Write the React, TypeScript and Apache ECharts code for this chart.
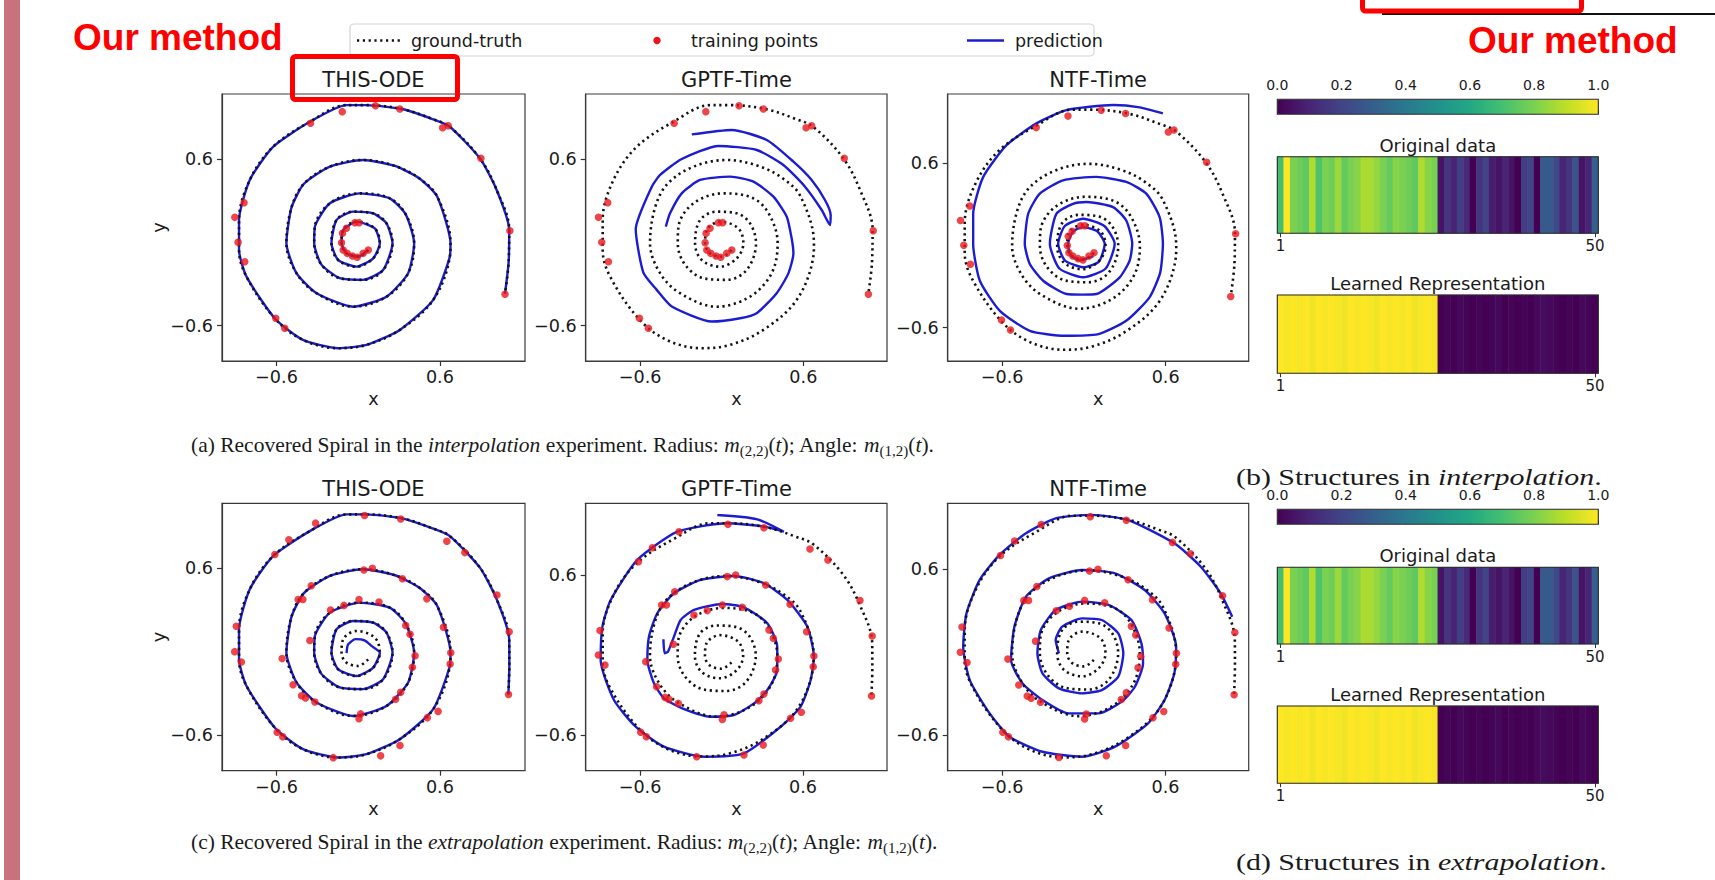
import React, { useEffect, useRef } from "react";
import * as echarts from "echarts";

// ---------- data ----------
const GT_SPIRAL: number[][] = [
  [0.073, -0.055], [0.0, -0.103], [-0.086, -0.079], [-0.122, -0.007], [-0.11, 0.089], [-0.012, 0.149],
  [0.122, 0.101], [0.159, -0.007], [0.11, -0.115], [-0.012, -0.175], [-0.147, -0.127], [-0.196, -0.007],
  [-0.159, 0.161], [-0.037, 0.221], [0.11, 0.209], [0.208, 0.137], [0.252, -0.007], [0.183, -0.199],
  [0.036, -0.27], [-0.135, -0.258], [-0.27, -0.16], [-0.323, -0.007], [-0.318, 0.113], [-0.208, 0.281],
  [0.012, 0.353], [0.232, 0.317], [0.35, 0.2], [0.411, -0.007], [0.367, -0.222], [0.208, -0.391],
  [-0.037, -0.463], [-0.306, -0.366], [-0.453, -0.222], [-0.527, -0.007], [-0.49, 0.25], [-0.4, 0.42],
  [-0.208, 0.545], [0.036, 0.593], [0.27, 0.55], [0.45, 0.46], [0.58, 0.33], [0.678, -0.007],
  [0.673, -0.103], [0.551, -0.414], [0.306, -0.63], [0.061, -0.738], [-0.147, -0.762], [-0.405, -0.702],
  [-0.61, -0.55], [-0.82, -0.247], [-0.875, -0.055], [-0.875, 0.161], [-0.796, 0.449], [-0.625, 0.688],
  [-0.355, 0.868], [-0.086, 0.988], [0.061, 0.988], [0.33, 0.958], [0.55, 0.886], [0.673, 0.832],
  [0.894, 0.605], [1.017, 0.377], [1.109, 0.089],
];
const GT_END_INTERP: number[][] = [[1.105, -0.14], [1.078, -0.371]];
const GT_END_EXTRAP: number[][] = [[1.11, -0.1], [1.103, -0.31]];

const TRAIN_INTERP: number[][] = [
  [-0.024, 0.142], [0.007, 0.142], [-0.086, 0.101], [-0.115, 0.065], [-0.122, -0.002], [-0.11, -0.055],
  [-0.081, -0.079], [-0.042, -0.098], [-0.007, -0.107], [0.037, -0.079], [0.074, -0.055],
  [-0.539, -0.618], [-0.605, -0.546], [-0.833, -0.139], [-0.882, 0.0], [-0.906, 0.18], [-0.838, 0.286],
  [-0.35, 0.857], [-0.117, 0.941], [0.127, 0.984], [0.306, 0.96], [0.62, 0.825], [0.661, 0.84],
  [0.901, 0.605], [1.114, 0.084], [1.078, -0.374],
];
const TRAIN_EXTRAP: number[][] = [
  [0.047, 0.98], [-0.313, 0.925], [-0.509, 0.805], [-0.612, 0.7], [0.312, 0.955], [0.651, 0.795],
  [0.783, 0.713], [1.019, 0.408], [1.109, 0.143], [1.104, -0.308], [-0.895, 0.183], [-0.907, 0.0],
  [-0.858, -0.075], [-0.595, -0.58], [-0.554, -0.613], [-0.183, -0.763], [0.165, -0.75], [0.307, -0.675],
  [0.508, -0.475], [0.587, -0.43],
  [0.042, 0.588], [0.104, 0.6], [0.325, 0.525], [0.504, 0.38], [0.626, 0.175], [0.68, -0.008],
  [0.675, -0.088], [-0.345, 0.475], [-0.441, 0.375], [-0.406, 0.375], [-0.558, -0.05], [-0.478, -0.238],
  [-0.416, -0.318], [-0.387, -0.333], [-0.318, -0.363],
  [0.006, -0.483], [0.018, -0.448], [0.275, -0.343], [0.312, -0.293], [0.398, -0.113], [0.418, -0.03],
  [0.381, 0.125], [0.349, 0.188], [0.153, 0.358], [0.006, 0.375], [-0.105, 0.333], [-0.203, 0.3],
  [-0.355, 0.08],
];

const PRED_GPTF_INTERP: number[][] = [
  [-0.411, 0.113], [-0.38, 0.209], [-0.294, 0.353], [-0.159, 0.449], [0.061, 0.473], [0.233, 0.437],
  [0.38, 0.329], [0.478, 0.185], [0.514, 0.029], [0.527, -0.079], [0.49, -0.223], [0.404, -0.366],
  [0.257, -0.51], [0.135, -0.546], [-0.073, -0.57], [-0.367, -0.462], [-0.478, -0.342], [-0.576, -0.218],
  [-0.632, 0.094], [-0.514, 0.401], [-0.453, 0.485], [-0.294, 0.6], [-0.024, 0.694], [0.257, 0.665],
  [0.453, 0.557], [0.612, 0.401], [0.735, 0.233], [0.796, 0.125], [0.801, 0.197], [0.759, 0.305],
  [0.661, 0.449], [0.527, 0.581], [0.331, 0.737], [0.074, 0.809], [-0.22, 0.777],
];
const PRED_NTF_INTERP: number[][] = [
  [0.07, -0.08], [-0.03, -0.11], [-0.1, -0.07], [-0.116, 0.01], [-0.08, 0.1], [-0.006, 0.132],
  [0.1, 0.1], [0.153, 0.01], [0.11, -0.12], [-0.006, -0.161], [-0.14, -0.11], [-0.189, 0.01],
  [-0.14, 0.14], [-0.006, 0.193], [0.15, 0.14], [0.226, 0.01], [0.16, -0.17], [-0.006, -0.234],
  [-0.18, -0.17], [-0.25, 0.01], [-0.202, 0.229], [-0.08, 0.302], [0.02, 0.315], [0.214, 0.278],
  [0.311, 0.18], [0.355, 0.01], [0.336, -0.112], [0.263, -0.234], [0.092, -0.356], [-0.01, -0.36],
  [-0.128, -0.356], [-0.299, -0.259], [-0.397, -0.137], [-0.434, 0.01], [-0.409, 0.229], [-0.324, 0.376],
  [-0.153, 0.473], [0.09, 0.498], [0.311, 0.461], [0.458, 0.376], [0.556, 0.205], [0.58, 0.01],
  [0.56, -0.2], [0.482, -0.38], [0.311, -0.551], [0.1, -0.65], [-0.14, -0.66], [-0.397, -0.624],
  [-0.617, -0.478], [-0.764, -0.259], [-0.813, 0.01], [-0.813, 0.229], [-0.739, 0.498], [-0.568, 0.729],
  [-0.348, 0.888], [-0.128, 0.985], [0.214, 1.022], [0.41, 1.005], [0.58, 0.961],
];
const PRED_THIS_EXTRAP_HEAD: number[][] = [
  [-0.085, -0.01], [-0.075, 0.05], [-0.02, 0.09], [0.05, 0.08], [0.1, 0.04],
];
const PRED_GPTF_EXTRAP: number[][] = [
  [-0.428, 0.118], [-0.419, 0.013], [-0.394, 0.025], [-0.35, 0.138], [-0.301, 0.263], [-0.203, 0.338],
  [0.006, 0.383], [0.165, 0.358], [0.337, 0.238], [0.41, 0.063], [0.41, -0.113], [0.337, -0.263],
  [0.239, -0.363], [0.091, -0.45], [-0.08, -0.463], [-0.289, -0.4], [-0.424, -0.325], [-0.497, -0.213],
  [-0.546, -0.038], [-0.534, 0.138], [-0.473, 0.313], [-0.35, 0.463], [-0.154, 0.563], [0.091, 0.593],
  [0.312, 0.538], [0.484, 0.413], [0.631, 0.213], [0.68, -0.013], [0.656, -0.188], [0.582, -0.388],
  [0.435, -0.538], [0.165, -0.738], [-0.129, -0.763], [-0.424, -0.688], [-0.632, -0.538], [-0.792, -0.338],
  [-0.89, -0.038], [-0.877, 0.213], [-0.816, 0.413], [-0.62, 0.713], [-0.325, 0.925], [0.042, 0.988],
  [0.312, 0.963], [0.459, 0.925], [0.263, 1.018], [-0.031, 1.05],
];
const PRED_NTF_EXTRAP: number[][] = [
  [-0.183, -0.008], [-0.207, 0.088], [-0.159, 0.185], [-0.013, 0.245], [0.132, 0.233], [0.253, 0.136],
  [0.29, -0.008], [0.253, -0.177], [0.132, -0.274], [-0.013, -0.298], [-0.183, -0.262], [-0.304, -0.153],
  [-0.341, -0.008], [-0.316, 0.161], [-0.207, 0.305], [-0.013, 0.366], [0.181, 0.342], [0.35, 0.233],
  [0.423, 0.064], [0.435, -0.081], [0.375, -0.25], [0.278, -0.358], [0.108, -0.443], [-0.11, -0.443],
  [-0.304, -0.346], [-0.45, -0.226], [-0.535, -0.057], [-0.51, 0.185], [-0.425, 0.402], [-0.256, 0.535],
  [-0.013, 0.595], [0.229, 0.571], [0.447, 0.45], [0.593, 0.281], [0.678, 0.04], [0.665, -0.153],
  [0.593, -0.346], [0.472, -0.515], [0.229, -0.684], [-0.013, -0.757], [-0.304, -0.721], [-0.547, -0.612],
  [-0.692, -0.443], [-0.838, -0.202], [-0.886, 0.04], [-0.862, 0.281], [-0.765, 0.523], [-0.619, 0.704],
  [-0.425, 0.861], [-0.207, 0.969], [0.059, 0.994], [0.326, 0.957], [0.665, 0.788], [0.859, 0.619],
  [1.005, 0.426], [1.09, 0.257],
];

const ORIGINAL_DATA: number[] = [
  0.7, 1.0, 0.8, 0.78, 0.75, 0.88, 0.72, 0.8, 0.78, 0.85, 0.76, 0.8, 0.82, 0.87, 0.87, 0.84, 0.8, 0.76,
  0.82, 0.8, 0.78, 0.75, 0.88, 0.82, 0.8,
  0.05, 0.15, 0.1, 0.18, 0.12, 0.0, 0.15, 0.2, 0.08, 0.05, 0.1, 0.05, 0.0, 0.18, 0.2, 0.0, 0.28, 0.28,
  0.22, 0.1, 0.15, 0.25, 0.05, 0.1, 0.3,
];
const LEARNED_REP: number[] = [
  1.0, 0.99, 1.0, 0.99, 1.0, 0.98, 1.0, 0.99, 1.0, 0.99, 0.98, 1.0, 0.99, 1.0, 0.99, 0.98, 1.0, 0.99,
  1.0, 0.99, 1.0, 0.98, 0.99, 1.0, 0.99,
  0.0, 0.01, 0.0, 0.02, 0.01, 0.0, 0.01, 0.0, 0.01, 0.02, 0.0, 0.01, 0.0, 0.01, 0.0, 0.02, 0.03, 0.02,
  0.01, 0.0, 0.01, 0.0, 0.02, 0.01, 0.0,
];
const CELL_LABELS: string[] = ORIGINAL_DATA.map((_, i) => String(i + 1));
const PANEL_TITLES = ["THIS-ODE", "GPTF-Time", "NTF-Time"];
const TICKS = [-0.6, 0.6];
const LEGEND_LABELS = ["ground-truth", "training points", "prediction"];

const VIRIDIS = [
  "#440154", "#482475", "#414487", "#355f8d", "#2a788e", "#21918c",
  "#22a884", "#44bf70", "#7ad151", "#bddf26", "#fde725",
];

// ---------- layout ----------
const FONT = "DejaVu Sans";
const INK = "#1a1a1a";
const RED = "#e8161b";
const BLUE = "#1c1cd2";
const COL_X = [222, 585.7, 947.7];
const COL_W = [303, 301.3, 301];
const ROW_Y = [94, 503.3];
const ROW_H = [267, 267.4];
const AX = [
  { x: [-1.0, 1.225], y: [-0.854, 1.068] },
  { x: [-1.0, 1.215], y: [-0.854, 1.068] },
  { x: [-1.0, 1.21], y: [-0.844, 1.102] },
  { x: [-1.0, 1.225], y: [-0.857, 1.068] },
  { x: [-1.0, 1.218], y: [-0.868, 1.138] },
  { x: [-1.0, 1.211], y: [-0.858, 1.078] },
];
const HM_LEFT = 1277.3;
const HM_W = 321;
const CB_H = 15;
const CB_TOP = [99.3, 509.3];
const HEATS = [
  { top: 156.7, h: 76.6, titleY: 145, title: "Original data", vals: ORIGINAL_DATA, vm: 0 },
  { top: 295, h: 78.3, titleY: 283.3, title: "Learned Representation", vals: LEARNED_REP, vm: 0 },
  { top: 567.3, h: 76.7, titleY: 555, title: "Original data", vals: ORIGINAL_DATA, vm: 1 },
  { top: 706, h: 77.3, titleY: 694, title: "Learned Representation", vals: LEARNED_REP, vm: 1 },
];

const fmt = (v: number) => (v < 0 ? "\u2212" : "") + Math.abs(v).toFixed(1);

function txt(text: string, x: number, y: number, size: number, extra: any = {}, elExtra: any = {}) {
  return {
    type: "text",
    x,
    y,
    z: 50,
    silent: true,
    ...elExtra,
    style: {
      text,
      fill: INK,
      fontSize: size,
      fontFamily: FONT,
      align: "center",
      textAlign: "center",
      verticalAlign: "middle",
      textVerticalAlign: "middle",
      ...extra,
    },
  };
}

function captionRich(size: number) {
  const sub = Math.round(size * 0.68);
  return {
    i: { fontStyle: "italic", fontFamily: "Liberation Serif", fontSize: size, fill: INK, lineHeight: size * 1.25 },
    s: { fontFamily: "Liberation Serif", fontSize: sub, fill: INK, lineHeight: sub, verticalAlign: "bottom" },
    n: { fontFamily: "Liberation Serif", fontSize: size, fill: INK, lineHeight: size * 1.25 },
  };
}

function buildOption() {
  const gtInterp = [...GT_SPIRAL, ...GT_END_INTERP];
  const gtExtrap = [...GT_SPIRAL, ...GT_END_EXTRAP];
  const panels = [
    { gt: gtInterp, pred: gtInterp, train: TRAIN_INTERP },
    { gt: gtInterp, pred: PRED_GPTF_INTERP, train: TRAIN_INTERP },
    { gt: gtInterp, pred: PRED_NTF_INTERP, train: TRAIN_INTERP },
    { gt: gtExtrap, pred: [...PRED_THIS_EXTRAP_HEAD, ...GT_SPIRAL.slice(7), ...GT_END_EXTRAP], train: TRAIN_EXTRAP },
    { gt: gtExtrap, pred: PRED_GPTF_EXTRAP, train: TRAIN_EXTRAP },
    { gt: gtExtrap, pred: PRED_NTF_EXTRAP, train: TRAIN_EXTRAP },
  ];

  const grid: any[] = [];
  const xAxis: any[] = [];
  const yAxis: any[] = [];
  const series: any[] = [];
  const graphic: any[] = [];

  const spine = { show: true, onZero: false, lineStyle: { color: "#3a3a3a", width: 1.2 } };

  panels.forEach((p, i) => {
    const col = i % 3;
    const row = Math.floor(i / 3);
    const left = COL_X[col];
    const top = ROW_Y[row];
    const width = COL_W[col];
    const height = ROW_H[row];
    grid.push({ left, top, width, height, show: true, borderColor: "#3a3a3a", borderWidth: 1.2, backgroundColor: "#fff" });
    xAxis.push({
      type: "value", gridIndex: i, min: AX[i].x[0], max: AX[i].x[1],
      splitLine: { show: false }, axisLine: spine,
      axisTick: { show: true, length: 5, customValues: TICKS, lineStyle: { color: "#333", width: 1.2 } },
      axisLabel: { customValues: TICKS, formatter: fmt, fontSize: 17.6, fontFamily: FONT, color: INK, margin: 7 },
    });
    yAxis.push({
      type: "value", gridIndex: i, min: AX[i].y[0], max: AX[i].y[1],
      splitLine: { show: false }, axisLine: spine,
      axisTick: { show: true, length: 5, customValues: TICKS, lineStyle: { color: "#333", width: 1.2 } },
      axisLabel: { customValues: TICKS, formatter: fmt, fontSize: 17.6, fontFamily: FONT, color: INK, margin: 9 },
    });
    series.push({
      type: "line", xAxisIndex: i, yAxisIndex: i, data: p.pred, symbol: "none", smooth: 0.2,
      lineStyle: { color: BLUE, width: 2.4 }, z: 2, silent: true,
    });
    series.push({
      type: "line", xAxisIndex: i, yAxisIndex: i, data: p.gt, symbol: "none", smooth: 0.35,
      lineStyle: { color: "#111", width: 2.6, type: [2.2, 3.6] }, z: 3, silent: true,
    });
    series.push({
      type: "scatter", xAxisIndex: i, yAxisIndex: i, data: p.train, symbolSize: 7.5,
      itemStyle: { color: RED }, z: 4, silent: true,
    });
    graphic.push(txt(PANEL_TITLES[col], left + width / 2, top - 14, 21));
    graphic.push(txt("x", left + width / 2, top + height + 38, 17.6));
    if (col === 0) {
      graphic.push(txt("y", 159, top + height / 2, 17.6, {}, { rotation: Math.PI / 2 }));
    }
  });

  HEATS.forEach((h, k) => {
    const gi = 6 + k;
    grid.push({ left: HM_LEFT, top: h.top, width: HM_W, height: h.h, show: false });
    const showIdx = (idx: number) => idx === 0 || idx === CELL_LABELS.length - 1;
    xAxis.push({
      type: "category", gridIndex: gi, data: CELL_LABELS, axisLine: { show: false },
      axisTick: { show: true, alignWithLabel: true, interval: showIdx, length: 4, lineStyle: { color: "#333" } },
      axisLabel: { interval: showIdx, fontSize: 15, fontFamily: FONT, color: INK, margin: 5 },
      splitLine: { show: false },
    });
    yAxis.push({ type: "category", gridIndex: gi, data: [""], show: false });
    series.push({
      type: "heatmap", xAxisIndex: gi, yAxisIndex: gi,
      data: h.vals.map((v, i) => [i, 0, v]), itemStyle: { borderWidth: 0 }, silent: true,
      emphasis: { disabled: true },
    });
    graphic.push(txt(h.title, HM_LEFT + HM_W / 2, h.titleY, 18));
    graphic.push({
      type: "rect", z: 60, silent: true,
      shape: { x: HM_LEFT, y: h.top, width: HM_W, height: h.h },
      style: { fill: "none", stroke: "#2a2a2a", lineWidth: 1.1 },
    });
  });

  CB_TOP.forEach((t, k) => {
    const gi = 10 + k;
    grid.push({ left: HM_LEFT, top: t, width: HM_W, height: CB_H, show: false });
    xAxis.push({
      type: "value", gridIndex: gi, min: 0, max: 1, interval: 0.2, position: "top",
      axisLine: { show: false }, splitLine: { show: false },
      axisTick: { show: true, length: 4, lineStyle: { color: "#333" } },
      axisLabel: { fontSize: 14, fontFamily: FONT, color: INK, margin: 7, formatter: (v: number) => v.toFixed(1) },
    });
    yAxis.push({ type: "value", gridIndex: gi, show: false, min: 0, max: 1 });
    series.push({ type: "scatter", xAxisIndex: gi, yAxisIndex: gi, data: [], silent: true });
    graphic.push({
      type: "rect", z: 60, silent: true,
      shape: { x: HM_LEFT, y: t, width: HM_W, height: CB_H },
      style: { fill: "none", stroke: "#2a2a2a", lineWidth: 1.1 },
    });
  });

  const visualMap = CB_TOP.map((t, k) => ({
    type: "continuous", min: 0, max: 1, seriesIndex: [18 + 2 * k, 19 + 2 * k],
    orient: "horizontal", left: HM_LEFT, top: t, itemWidth: CB_H, itemHeight: HM_W,
    calculable: false, padding: 0, hoverLink: false, inRange: { color: VIRIDIS },
  }));

  graphic.push({ type: "rect", z: 1, silent: true, shape: { x: 4, y: 0, width: 16, height: 880 }, style: { fill: "#c8727b" } });
  graphic.push(txt("Our method", 73, 37, 37, { fill: "#ff0000", fontWeight: "bold", fontFamily: "Liberation Sans", align: "left", textAlign: "left" }));
  graphic.push(txt("Our method", 1468, 40, 37, { fill: "#ff0000", fontWeight: "bold", fontFamily: "Liberation Sans", align: "left", textAlign: "left" }));
  const LY = 40.5;
  graphic.push({ type: "rect", z: 40, silent: true, shape: { x: 350, y: 24, width: 744, height: 32, r: 4 }, style: { fill: "#fff", stroke: "#d4d4d4", lineWidth: 1.2 } });
  graphic.push({ type: "line", z: 41, silent: true, shape: { x1: 357, y1: LY, x2: 403, y2: LY }, style: { stroke: "#111", lineWidth: 2.6, lineDash: [2.2, 3.6] } });
  graphic.push({ type: "circle", z: 41, silent: true, shape: { cx: 657, cy: LY, r: 3.7 }, style: { fill: RED } });
  graphic.push({ type: "line", z: 41, silent: true, shape: { x1: 967, y1: LY, x2: 1004, y2: LY }, style: { stroke: BLUE, lineWidth: 2.4 } });
  graphic.push(txt(LEGEND_LABELS[0], 411, LY, 17.5, { align: "left", textAlign: "left" }));
  graphic.push(txt(LEGEND_LABELS[1], 691, LY, 17.5, { align: "left", textAlign: "left" }));
  graphic.push(txt(LEGEND_LABELS[2], 1015, LY, 17.5, { align: "left", textAlign: "left" }));
  graphic.push({ type: "rect", z: 70, silent: true, shape: { x: 292.5, y: 56.5, width: 165, height: 43, r: 3 }, style: { fill: "none", stroke: "#ff0000", lineWidth: 5 } });
  graphic.push({ type: "rect", z: 70, silent: true, shape: { x: 1362.5, y: -10, width: 219, height: 21, r: 3 }, style: { fill: "none", stroke: "#ff0000", lineWidth: 5 } });
  graphic.push({ type: "line", z: 69, silent: true, shape: { x1: 1382, y1: 14, x2: 1715, y2: 14 }, style: { stroke: "#111", lineWidth: 2 } });

  const cap = (t: string, x: number, y: number, size: number, sx = 1) =>
    txt(t, x, y, size, { fontFamily: "Liberation Serif", align: "left", textAlign: "left", rich: captionRich(size), lineHeight: size * 1.25 }, { scaleX: sx });
  graphic.push(cap("{n|(a) Recovered Spiral in the }{i|interpolation}{n| experiment. Radius: }{i|m}{s|(2,2)}{n|(}{i|t}{n|); Angle: }{i|m}{s|(1,2)}{n|(}{i|t}{n|).}", 191, 445, 21.5));
  graphic.push(cap("{n|(c) Recovered Spiral in the }{i|extrapolation}{n| experiment. Radius: }{i|m}{s|(2,2)}{n|(}{i|t}{n|); Angle: }{i|m}{s|(1,2)}{n|(}{i|t}{n|).}", 191, 842, 21.5));
  graphic.push(cap("{n|(b) Structures in }{i|interpolation}{n|.}", 1236, 477, 22.5, 1.33));
  graphic.push(cap("{n|(d) Structures in }{i|extrapolation}{n|.}", 1236, 862, 22.5, 1.33));

  return {
    animation: false,
    backgroundColor: "#fff",
    grid, xAxis, yAxis, series, visualMap, graphic,
  };
}

export default function App() {
  const ref = useRef<HTMLDivElement>(null);
  useEffect(() => {
    if (!ref.current) return;
    const chart = echarts.init(ref.current, null, { renderer: "svg" });
    chart.setOption(buildOption() as any);
    return () => chart.dispose();
  }, []);
  return (
    <div
      ref={ref}
      style={{ position: "fixed", left: 0, top: 0, width: 1715, height: 880, background: "#fff" }}
    />
  );
}
